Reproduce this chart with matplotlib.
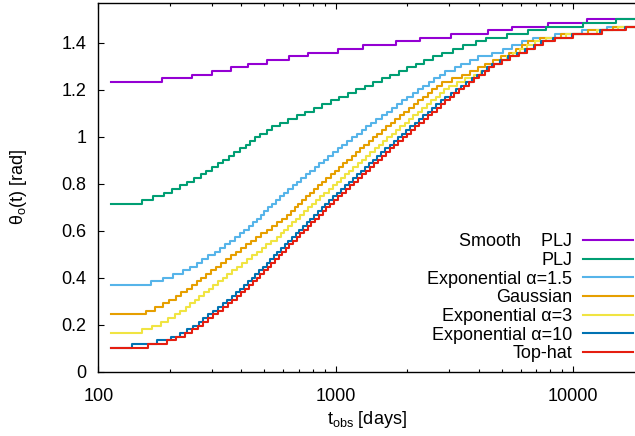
import numpy as np
import matplotlib
matplotlib.use("Agg")
import matplotlib.pyplot as plt
from matplotlib.ticker import FuncFormatter, LogLocator, NullFormatter

plt.rcParams['font.family'] = ['Liberation Sans', 'DejaVu Sans']
plt.rcParams['mathtext.fontset'] = 'custom'
plt.rcParams['mathtext.rm'] = 'Liberation Sans'

# angular bins of the simulation output (bin centres, rad), index = bin number
theta_bins = [0.0079, 0.0236, 0.0393, 0.0550, 0.0707, 0.0864, 0.1021, 0.1178, 0.1335, 0.1492,
              0.1649, 0.1806, 0.1963, 0.2121, 0.2278, 0.2435, 0.2592, 0.2749, 0.2906, 0.3063,
              0.3220, 0.3377, 0.3534, 0.3691, 0.3848, 0.4006, 0.4163, 0.4320, 0.4477, 0.4634,
              0.4791, 0.4948, 0.5105, 0.5262, 0.5419, 0.5576, 0.5733, 0.5890, 0.6048, 0.6205,
              0.6362, 0.6519, 0.6676, 0.6833, 0.6990, 0.7147, 0.7304, 0.7461, 0.7618, 0.7775,
              0.7933, 0.8090, 0.8247, 0.8404, 0.8561, 0.8718, 0.8875, 0.9032, 0.9189, 0.9346,
              0.9503, 0.9660, 0.9817, 0.9975, 1.0132, 1.0289, 1.0446, 1.0603, 1.0760, 1.0917,
              1.1074, 1.1231, 1.1388, 1.1545, 1.1702, 1.1860, 1.2017, 1.2174, 1.2331, 1.2488,
              1.2645, 1.2802, 1.2959, 1.3116, 1.3273, 1.3430, 1.3587, 1.3744, 1.3902, 1.4059,
              1.4216, 1.4373, 1.4530, 1.4687, 1.4844, 1.5001]

t_first = 113.0     # days, first output time
t_last = 18200.0    # days, right edge of the plot

labels = ["Smooth    PLJ", "PLJ", "Exponential \u03b1=1.5", "Gaussian",
          "Exponential \u03b1=3", "Exponential \u03b1=10", "Top-hat"]
colors = ["#9400d3", "#009e73", "#56b4e9", "#e69f00", "#f0e442", "#0072b2", "#e51e10"]
start_bins = [78, 45, 23, 15, 10, 6, 6]

# log10(t_obs / days) at which each curve moves up one angular bin
steps_smooth_plj = [2.266, 2.392, 2.477, 2.558, 2.628, 2.708, 2.803, 2.883, 3.010, 3.115,
                    3.253, 3.354, 3.487, 3.639, 3.740, 3.894, 4.056]
steps_plj = [2.182, 2.231, 2.276, 2.309, 2.343, 2.374, 2.403, 2.430, 2.453, 2.478,
             2.502, 2.525, 2.548, 2.572, 2.596, 2.620, 2.639, 2.660, 2.680, 2.708,
             2.729, 2.764, 2.800, 2.836, 2.872, 2.907, 2.943, 2.979, 3.015, 3.051,
             3.086, 3.122, 3.158, 3.194, 3.230, 3.266, 3.301, 3.337, 3.373, 3.409,
             3.445, 3.494, 3.536, 3.592, 3.634, 3.719, 3.810, 3.887, 4.041, 4.179]
steps_exp15 = [2.220, 2.273, 2.315, 2.357, 2.385, 2.413, 2.435, 2.462, 2.491, 2.512,
               2.533, 2.554, 2.575, 2.596, 2.614, 2.632, 2.652, 2.667, 2.684, 2.699,
               2.716, 2.733, 2.749, 2.764, 2.782, 2.800, 2.818, 2.836, 2.854, 2.873,
               2.892, 2.911, 2.930, 2.949, 2.968, 2.988, 3.008, 3.027, 3.047, 3.068,
               3.088, 3.109, 3.129, 3.150, 3.171, 3.193, 3.214, 3.236, 3.257, 3.279,
               3.301, 3.324, 3.346, 3.368, 3.391, 3.414, 3.437, 3.459, 3.501, 3.525,
               3.564, 3.599, 3.656, 3.703, 3.741, 3.782, 3.831, 3.922, 4.035, 4.144]
steps_gauss = [2.199, 2.239, 2.271, 2.299, 2.325, 2.349, 2.372, 2.394, 2.415, 2.433,
               2.454, 2.475, 2.496, 2.518, 2.539, 2.560, 2.581, 2.602, 2.623, 2.644,
               2.665, 2.686, 2.708, 2.729, 2.750, 2.771, 2.793, 2.809, 2.826, 2.842,
               2.859, 2.875, 2.892, 2.909, 2.926, 2.943, 2.960, 2.978, 2.995, 3.013,
               3.030, 3.048, 3.066, 3.084, 3.102, 3.120, 3.138, 3.157, 3.175, 3.194,
               3.213, 3.231, 3.250, 3.269, 3.289, 3.308, 3.327, 3.347, 3.366, 3.386,
               3.406, 3.426, 3.446, 3.490, 3.530, 3.565, 3.600, 3.630, 3.660, 3.695,
               3.730, 3.760, 3.785, 3.810, 3.859, 3.950, 4.061, 4.168]
steps_exp3 = [2.182, 2.227, 2.263, 2.294, 2.321, 2.345, 2.367, 2.387, 2.406, 2.424,
              2.444, 2.464, 2.483, 2.503, 2.523, 2.542, 2.562, 2.583, 2.604, 2.624,
              2.645, 2.666, 2.687, 2.707, 2.728, 2.750, 2.767, 2.783, 2.800, 2.817,
              2.833, 2.850, 2.867, 2.884, 2.901, 2.918, 2.935, 2.952, 2.969, 2.987,
              3.004, 3.021, 3.039, 3.056, 3.074, 3.092, 3.109, 3.127, 3.145, 3.163,
              3.181, 3.199, 3.217, 3.235, 3.253, 3.271, 3.290, 3.308, 3.326, 3.345,
              3.364, 3.382, 3.401, 3.420, 3.438, 3.457, 3.476, 3.510, 3.545, 3.580,
              3.610, 3.635, 3.660, 3.690, 3.720, 3.745, 3.775, 3.805, 3.838, 3.887,
              3.971, 4.098, 4.189]
steps_exp10 = [2.140, 2.248, 2.305, 2.343, 2.374, 2.399, 2.422, 2.442, 2.463, 2.484,
               2.504, 2.524, 2.543, 2.562, 2.580, 2.597, 2.614, 2.631, 2.646, 2.661,
               2.677, 2.692, 2.708, 2.723, 2.739, 2.754, 2.769, 2.784, 2.799, 2.815,
               2.830, 2.846, 2.861, 2.877, 2.893, 2.908, 2.924, 2.940, 2.956, 2.973,
               2.989, 3.005, 3.022, 3.038, 3.055, 3.072, 3.088, 3.105, 3.122, 3.139,
               3.156, 3.174, 3.191, 3.208, 3.226, 3.243, 3.261, 3.279, 3.296, 3.314,
               3.332, 3.350, 3.368, 3.386, 3.405, 3.423, 3.441, 3.460, 3.485, 3.506,
               3.528, 3.550, 3.572, 3.595, 3.617, 3.636, 3.659, 3.692, 3.727, 3.762,
               3.798, 3.833, 3.866, 3.915, 3.993, 4.113, 4.218]
steps_tophat = [2.207, 2.287, 2.326, 2.364, 2.392, 2.418, 2.441, 2.462, 2.483, 2.504,
                2.524, 2.544, 2.563, 2.582, 2.600, 2.617, 2.634, 2.651, 2.666, 2.681,
                2.697, 2.712, 2.728, 2.743, 2.759, 2.774, 2.789, 2.804, 2.819, 2.835,
                2.850, 2.866, 2.881, 2.897, 2.913, 2.928, 2.944, 2.960, 2.976, 2.993,
                3.009, 3.025, 3.042, 3.058, 3.075, 3.092, 3.108, 3.125, 3.142, 3.159,
                3.176, 3.194, 3.211, 3.228, 3.246, 3.263, 3.281, 3.299, 3.316, 3.334,
                3.352, 3.370, 3.388, 3.406, 3.425, 3.443, 3.461, 3.480, 3.499, 3.519,
                3.540, 3.561, 3.583, 3.605, 3.627, 3.645, 3.668, 3.700, 3.735, 3.770,
                3.805, 3.840, 3.873, 3.922, 3.999, 4.119, 4.224]

all_steps = [steps_smooth_plj, steps_plj, steps_exp15, steps_gauss,
             steps_exp3, steps_exp10, steps_tophat]

FS = 13

fig = plt.figure(figsize=(6.35, 4.36), dpi=100)
ax = fig.add_axes([0.1551, 0.1475, 0.8449, 0.8463])

for lab, col, k0, steps in zip(labels, colors, start_bins, all_steps):
    t = np.concatenate([[t_first], 10.0 ** np.array(steps), [t_last]])
    th = list(theta_bins[k0:k0 + len(steps) + 1])
    th.append(th[-1])
    ax.plot(t, th, drawstyle='steps-post', color=col, lw=1.5, label=lab)

ax.set_xscale('log')
ax.set_xlim(100, t_last)
ax.set_ylim(0, np.pi / 2)
ax.set_yticks(np.arange(0, 1.41, 0.2))
ax.yaxis.set_major_formatter(FuncFormatter(lambda v, p: '%g' % round(v, 2)))
ax.xaxis.set_major_locator(LogLocator(base=10))
ax.xaxis.set_minor_locator(LogLocator(base=10, subs=np.arange(2, 10)))
ax.xaxis.set_major_formatter(FuncFormatter(lambda v, p: '%d' % v))
ax.xaxis.set_minor_formatter(NullFormatter())

ax.tick_params(which='both', direction='in', top=True, right=False, labelsize=FS,
               width=0.8, colors='black')
ax.tick_params(which='major', length=4.3)
ax.tick_params(which='minor', length=2.2)
ax.tick_params(axis='x', pad=11.5)
ax.tick_params(axis='y', pad=8.5)
ax.spines['right'].set_visible(False)
for s in ['left', 'bottom', 'top']:
    ax.spines[s].set_linewidth(1.0)

ax.set_xlabel('t$_\\mathregular{obs}$ [days]', fontsize=FS)
ax.set_ylabel('\u03b8$_\\mathregular{o}$(t) [rad]', fontsize=FS)
ax.xaxis.set_label_coords(0.5, -0.101)
ax.yaxis.set_label_coords(-0.13, 0.5)

leg = ax.legend(loc='lower right', bbox_to_anchor=(1.0, 0.021), frameon=False,
                markerfirst=False, handlelength=2.76, labelspacing=0.09,
                handletextpad=0.62, borderaxespad=0, borderpad=0.1, fontsize=FS)
# right-justify the legend entries (gnuplot style key)
for col in leg._legend_handle_box.get_children():
    col.align = 'right'

fig.savefig('out.png', dpi=100)
